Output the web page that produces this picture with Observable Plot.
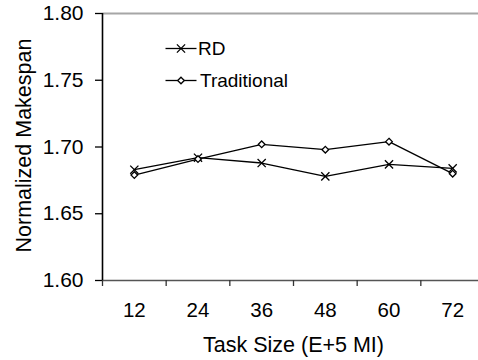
<!DOCTYPE html>
<html><head><meta charset="utf-8">
<script src="https://cdn.jsdelivr.net/npm/d3@7"></script>
<script src="https://cdn.jsdelivr.net/npm/@observablehq/plot@0.6"></script>
<style>body{margin:0;background:#fff} svg{display:block}</style>
</head><body><div id="chart"></div>
<script>
const taskSizes = [12, 24, 36, 48, 60, 72];
const rdValues = [1.683, 1.692, 1.688, 1.678, 1.687, 1.684];
const traditionalValues = [1.679, 1.691, 1.702, 1.698, 1.704, 1.680];
const seriesNames = ["RD", "Traditional"];
const yTicks = [1.60, 1.65, 1.70, 1.75, 1.80];
const xTitle = "Task Size (E+5 MI)";
const yTitle = "Normalized Makespan";

const rows = taskSizes.map((t, i) => ({size: t, rd: rdValues[i], trad: traditionalValues[i]}));
const halfStep = (taskSizes[1] - taskSizes[0]) / 2;
const boundaries = taskSizes.map(d => d - halfStep);
const xDomain = [taskSizes[0] - halfStep, taskSizes[taskSizes.length - 1] + halfStep];

const font = "Liberation Sans, Arial, Helvetica, sans-serif";
const legendLine = {draw(ctx) { ctx.moveTo(-15.5, 0); ctx.lineTo(15.5, 0); }};

const chart = Plot.plot({
  width: 478, height: 360,
  marginLeft: 102, marginRight: 0, marginTop: 13, marginBottom: 80,
  style: {fontFamily: font, background: "#fff", color: "#000"},
  x: {domain: xDomain, range: [102, 484]},
  y: {domain: [yTicks[0], yTicks[yTicks.length - 1]], range: [280, 13]},
  marks: [
    Plot.ruleY([yTicks[yTicks.length - 1]], {stroke: "#a6a6a6", strokeWidth: 2}),
    Plot.ruleY([yTicks[0]], {stroke: "#555", strokeWidth: 1.5}),
    Plot.axisY({ticks: yTicks, tickFormat: d3.format(".2f"), tickSize: 7, tickPadding: 12, fontSize: 21, label: null, stroke: "#000", strokeWidth: 1.3}),
    Plot.ruleX([xDomain[0]], {stroke: "#000", strokeWidth: 1.6}),
    Plot.axisX({ticks: boundaries, tickFormat: () => "", tickSize: 6, label: null, stroke: "#333", strokeWidth: 1.3}),
    Plot.axisX({ticks: taskSizes, tickSize: 0, tickPadding: 22, fontSize: 20.5, label: null}),
    Plot.text([xTitle], {text: d => d, frameAnchor: "bottom", lineAnchor: "middle", dx: 3, dy: 65, fontSize: 21.5}),
    Plot.text([yTitle], {text: d => d, frameAnchor: "left", textAnchor: "middle", lineAnchor: "middle", rotate: -90, dx: -78.5, dy: -1.5, fontSize: 21.5}),
    Plot.line(rows, {x: "size", y: "rd", stroke: "#000", strokeWidth: 1.3}),
    Plot.line(rows, {x: "size", y: "trad", stroke: "#000", strokeWidth: 1.3}),
    Plot.dot(rows, {x: "size", y: "rd", symbol: "times", r: 3.8, stroke: "#000", strokeWidth: 1.3}),
    Plot.dot(rows, {x: "size", y: "trad", symbol: "diamond2", r: 3, stroke: "#000", fill: "#fff", strokeWidth: 1.3}),
    // legend
    Plot.dot([seriesNames[0]], {frameAnchor: "top-left", dx: 78.5, dy: 35, symbol: legendLine, stroke: "#000", strokeWidth: 1.3}),
    Plot.dot([seriesNames[0]], {frameAnchor: "top-left", dx: 78.5, dy: 35, symbol: "times", r: 3.8, stroke: "#000", strokeWidth: 1.3}),
    Plot.text([seriesNames[0]], {text: d => d, frameAnchor: "top-left", lineAnchor: "middle", dx: 95.5, dy: 35, textAnchor: "start", fontSize: 19}),
    Plot.dot([seriesNames[1]], {frameAnchor: "top-left", dx: 78.5, dy: 67, symbol: legendLine, stroke: "#000", strokeWidth: 1.3}),
    Plot.dot([seriesNames[1]], {frameAnchor: "top-left", dx: 78.5, dy: 67, symbol: "diamond2", r: 3, stroke: "#000", fill: "#fff", strokeWidth: 1.3}),
    Plot.text([seriesNames[1]], {text: d => d, frameAnchor: "top-left", lineAnchor: "middle", dx: 97.5, dy: 67, textAnchor: "start", fontSize: 19})
  ]
});
document.getElementById("chart").appendChild(chart);
</script>
</body></html>
